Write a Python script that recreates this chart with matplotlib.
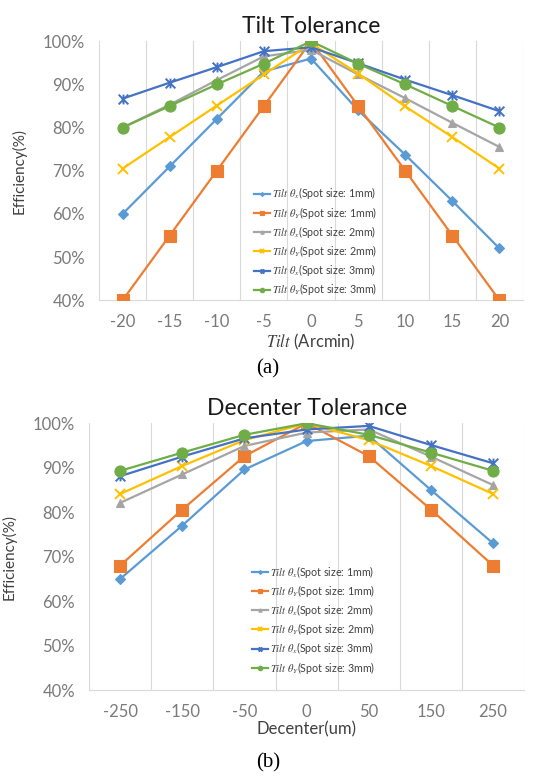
import numpy as np
import matplotlib
matplotlib.use("Agg")
import matplotlib.pyplot as plt
from matplotlib.path import Path

plt.rcParams['font.family'] = ['Lato', 'DejaVu Sans']
plt.rcParams['mathtext.fontset'] = 'stix'

# data
tilt_cats = ['-20', '-15', '-10', '-5', '0', '5', '10', '15', '20']
tilt_x_1mm = [60, 71, 82, 93, 96, 84, 73.7, 63, 52]
tilt_y_1mm = [40, 55, 70, 85, 100, 85, 70, 55, 40]
tilt_x_2mm = [80, 85.3, 91, 96.5, 98, 92.3, 86.8, 81.1, 75.5]
tilt_y_2mm = [70.5, 77.8, 85.1, 92.3, 99.5, 92.5, 84.9, 77.8, 70.5]
tilt_x_3mm = [86.7, 90.4, 94, 97.7, 98.6, 94.9, 91.1, 87.5, 83.8]
tilt_y_3mm = [80, 85, 90, 94.8, 100, 94.8, 90, 85, 80]

dec_cats = ['-250', '-150', '-50', '0', '50', '150', '250']
dec_x_1mm = [65, 77, 89.6, 96, 97.2, 85, 73]
dec_y_1mm = [68, 80.6, 92.6, 100, 92.6, 80.6, 68]
dec_x_2mm = [82.1, 88.5, 94.9, 97.9, 98.6, 92.5, 86.1]
dec_y_2mm = [84.1, 90.4, 96.2, 100, 96.2, 90.4, 84.1]
dec_x_3mm = [88.1, 92.5, 96.6, 98.6, 99.4, 95.1, 91]
dec_y_3mm = [89.3, 93.4, 97.4, 100, 97.4, 93.4, 89.3]

labels = [r'$\mathit{Tilt}\ \theta_x$(Spot size: 1mm)',
          r'$\mathit{Tilt}\ \theta_Y$(Spot size: 1mm)',
          r'$\mathit{Tilt}\ \theta_x$(Spot size: 2mm)',
          r'$\mathit{Tilt}\ \theta_Y$(Spot size: 2mm)',
          r'$\mathit{Tilt}\ \theta_x$(Spot size: 3mm)',
          r'$\mathit{Tilt}\ \theta_Y$(Spot size: 3mm)']
colors = ['#5B9BD5', '#ED7D31', '#A5A5A5', '#FFC000', '#4472C4', '#70AD47']

# excel style star marker (x with vertical bar)
star = Path([(-1, -1), (1, 1), (-1, 1), (1, -1), (0, -1), (0, 1)],
            [Path.MOVETO, Path.LINETO, Path.MOVETO, Path.LINETO, Path.MOVETO, Path.LINETO])
markers = ['D', 's', '^', 'x', star, 'o']
msizes = [5, 8, 6, 7, 7, 8]


def draw(ax, cats, series, title, xlabel, leg_anchor):
    x = np.arange(len(cats))
    for i, ys in enumerate(series):
        ax.plot(x, ys, color=colors[i], lw=1.6, marker=markers[i], ms=msizes[i],
                mew=1.4 if i in (3, 4) else 0.8, mec=colors[i], mfc=colors[i],
                label=labels[i], zorder=3 + i)
    ax.set_xlim(-0.5, len(cats) - 0.5)
    ax.set_ylim(40, 100)
    ax.set_xticks(x)
    ax.set_xticklabels(cats)
    ax.set_yticks(range(40, 101, 10))
    ax.set_yticklabels(['%d%%' % v for v in range(40, 101, 10)])
    ax.set_xticks(np.arange(-0.5, len(cats)), minor=True)
    ax.grid(True, which='minor', axis='x', color='#D9D9D9', lw=0.8)
    ax.tick_params(which='both', length=0, labelsize=12, labelcolor='#7a7a7a')
    ax.tick_params(axis='x', pad=10)
    ax.tick_params(axis='y', pad=10)
    for s in ['top', 'right', 'left']:
        ax.spines[s].set_visible(False)
    ax.spines['bottom'].set_color('#D9D9D9')
    ax.set_title(title, fontsize=16.5, color='#1a1a1a', pad=6)
    ax.set_ylabel('Efficiency(%)', fontsize=11, color='#404040', labelpad=12)
    ax.set_xlabel(xlabel, fontsize=12, color='#404040', labelpad=1)
    leg = ax.legend(loc='upper left', bbox_to_anchor=leg_anchor, frameon=False,
                    fontsize=7.7, markerscale=0.4, handlelength=1.5, handletextpad=0.2,
                    labelspacing=0.3, borderaxespad=0)
    for t in leg.get_texts():
        t.set_color('#404040')


fig = plt.figure(figsize=(5.5, 7.78), dpi=100)
ax1 = fig.add_axes([0.18, 0.614, 0.771, 0.333])
ax2 = fig.add_axes([0.162, 0.113, 0.791, 0.343])

draw(ax1, tilt_cats, [tilt_x_1mm, tilt_y_1mm, tilt_x_2mm, tilt_y_2mm, tilt_x_3mm, tilt_y_3mm],
     'Tilt Tolerance', r'$\mathit{Tilt}$ (Arcmin)', (0.355, 0.46))
draw(ax2, dec_cats, [dec_x_1mm, dec_y_1mm, dec_x_2mm, dec_y_2mm, dec_x_3mm, dec_y_3mm],
     'Decenter Tolerance', 'Decenter(um)', (0.365, 0.49))

fig.text(0.487, 0.526, '(a)', family='Liberation Serif', fontsize=15, ha='center', va='center')
fig.text(0.487, 0.019, '(b)', family='Liberation Serif', fontsize=15, ha='center', va='center')

fig.savefig('out.png', dpi=100, facecolor='white')
